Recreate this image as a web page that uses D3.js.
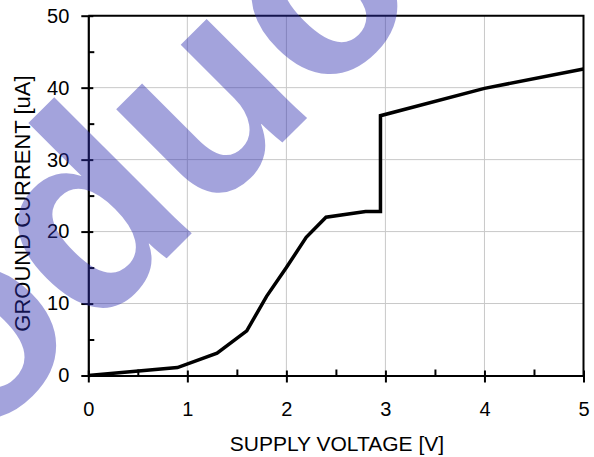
<!DOCTYPE html>
<html>
<head>
<meta charset="utf-8">
<script src="https://cdn.jsdelivr.net/npm/d3@7"></script>
<style>
body{margin:0;background:#fff}
text{font-family:"Liberation Sans",Arial,sans-serif}
</style>
</head>
<body>
<svg id="graph"></svg>
<script>
// supply voltage [V] vs ground current [uA]
var voltage=[0,0.9,1.3,1.6,1.8,2.0,2.2,2.4,2.8,2.95,2.95,4.0,5.0]
var current=[0,1.1,3.1,6.2,11.0,15.0,19.2,22.0,22.8,22.8,36.1,39.9,42.6]

var xTicks=[0,1,2,3,4,5]
var xMinor=[0.5,1.5,2.5,3.5,4.5]
var yTicks=[0,10,20,30,40,50]
var yMinor=[5,15,25,35,45]

var xTitle="SUPPLY VOLTAGE [V]"
var yTitle="GROUND CURRENT [uA]"
var watermark="Product"

var screen={width:594,height:457}
var plot={left:88.3,right:583.5,top:15.7,bottom:375.5}

var svg=d3.select("#graph")
.attr("width",screen.width)
.attr("height",screen.height)

var xScale=d3.scaleLinear()
.domain([0,5])
.range([plot.left,plot.right])

var yScale=d3.scaleLinear()
.domain([0,50])
.range([plot.bottom,plot.top])

// grid
svg.append("g").selectAll("line")
.data(xTicks.slice(1,-1))
.enter()
.append("line")
.attr("x1",function(d){return xScale(d)})
.attr("x2",function(d){return xScale(d)})
.attr("y1",plot.top)
.attr("y2",plot.bottom)
.attr("stroke","#c8c8c8")
.attr("stroke-width",1)

svg.append("g").selectAll("line")
.data(yTicks.slice(1,-1))
.enter()
.append("line")
.attr("x1",plot.left)
.attr("x2",plot.right)
.attr("y1",function(d){return yScale(d)})
.attr("y2",function(d){return yScale(d)})
.attr("stroke","#c8c8c8")
.attr("stroke-width",1)

// frame top/right
svg.append("path")
.attr("d","M"+plot.left+","+plot.top+"H"+plot.right+"V"+plot.bottom)
.attr("fill","none")
.attr("stroke","#000")
.attr("stroke-width",2)

// x axis
var xAxis=svg.append("g")
.attr("transform","translate(0,"+plot.bottom+")")
.call(d3.axisBottom(xScale).tickValues(xTicks).tickSize(7).tickSizeOuter(0).tickPadding(19).tickFormat(d3.format("d")))
xAxis.selectAll(".tick line").attr("y1",-5).attr("stroke-width",2)
xAxis.select(".domain").attr("stroke-width",2.2)
xAxis.selectAll("text").attr("font-size",20).attr("font-family","Liberation Sans").attr("fill","#000")

var xAxisMinor=svg.append("g")
.attr("transform","translate(0,"+plot.bottom+")")
.call(d3.axisBottom(xScale).tickValues(xMinor).tickSize(-6).tickSizeOuter(0).tickFormat(""))
xAxisMinor.select(".domain").remove()
xAxisMinor.selectAll(".tick line").attr("stroke-width",2)

// y axis
var yAxis=svg.append("g")
.attr("transform","translate("+plot.left+",0)")
.call(d3.axisLeft(yScale).tickValues(yTicks).tickSize(7).tickSizeOuter(0).tickPadding(12).tickFormat(d3.format("d")))
yAxis.selectAll(".tick line").attr("x1",5).attr("stroke-width",2)
yAxis.select(".domain").attr("stroke-width",2.2)
yAxis.selectAll("text").attr("font-size",20).attr("font-family","Liberation Sans").attr("fill","#000")

var yAxisMinor=svg.append("g")
.attr("transform","translate("+plot.left+",0)")
.call(d3.axisLeft(yScale).tickValues(yMinor).tickSize(-6).tickSizeOuter(0).tickFormat(""))
yAxisMinor.select(".domain").remove()
yAxisMinor.selectAll(".tick line").attr("stroke-width",2)

// curve
var pts=voltage.map(function(v,i){return [v,current[i]]})
var line=d3.line()
.x(function(d){return xScale(d[0])})
.y(function(d){return yScale(d[1])})

svg.append("path")
.datum(pts)
.attr("d",line)
.attr("fill","none")
.attr("stroke","#000")
.attr("stroke-width",3.5)
.attr("stroke-linejoin","miter")

// titles
svg.append("text")
.attr("x",(plot.left+plot.right)/2+1)
.attr("y",450.5)
.attr("text-anchor","middle")
.attr("font-size",21)
.attr("fill","#000")
.text(xTitle)

svg.append("text")
.attr("transform","translate(29.5,203.5) rotate(-90)")
.attr("text-anchor","middle")
.attr("font-size",22)
.attr("fill","#000")
.text(yTitle)

// watermark over everything
var wm=svg.append("g")
.attr("transform","translate(88.9,336.1) rotate(-45)")
var wmText=wm.append("text")
.attr("font-size",267)
.attr("font-weight","bold")
.attr("fill","rgb(45,45,175)")
.attr("fill-opacity",0.44)
.text(watermark)
var off=wmText.node().getSubStringLength(0,3)
wmText.attr("x",-off)
</script>
</body>
</html>
